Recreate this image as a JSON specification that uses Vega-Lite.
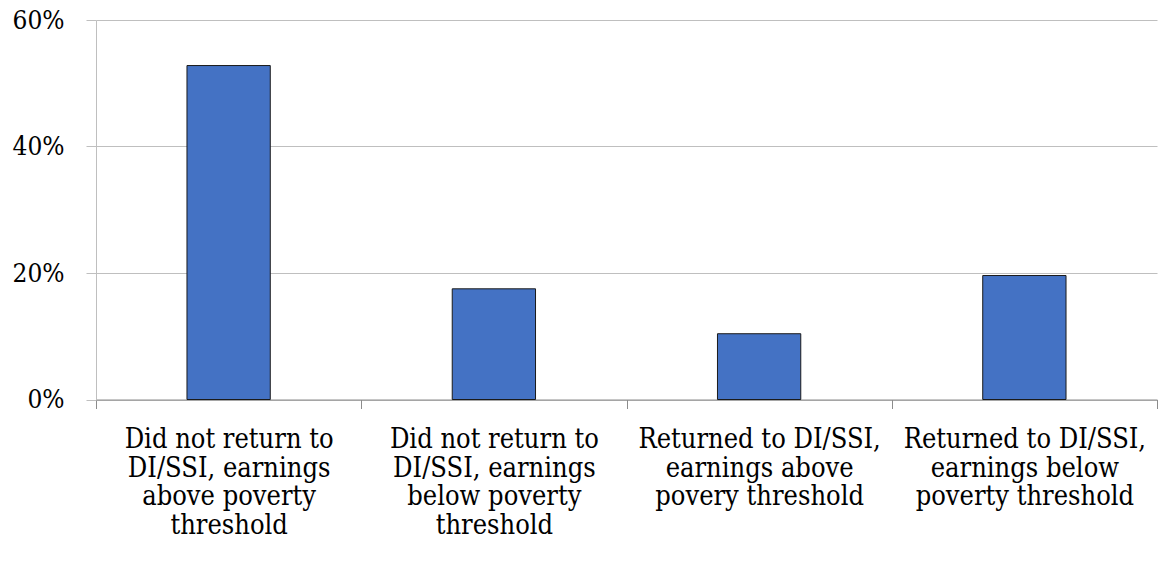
{
  "$schema": "https://vega.github.io/schema/vega-lite/v6.json",
  "width": 1061,
  "height": 379.5,
  "autosize": {"type": "none"},
  "padding": {"left": 96, "top": 20, "right": 2, "bottom": 165},
  "background": "white",
  "data": {
    "values": [
      {"outcome": "Did not return to\nDI/SSI, earnings\nabove poverty\nthreshold", "share": 0.528},
      {"outcome": "Did not return to\nDI/SSI, earnings\nbelow poverty\nthreshold", "share": 0.175},
      {"outcome": "Returned to DI/SSI,\nearnings above\npovery threshold", "share": 0.104},
      {"outcome": "Returned to DI/SSI,\nearnings below\npoverty threshold", "share": 0.196}
    ]
  },
  "mark": {
    "type": "bar",
    "width": {"band": 0.314},
    "color": "#4472C4",
    "stroke": "#1a1a1a",
    "strokeWidth": 1
  },
  "encoding": {
    "x": {
      "field": "outcome",
      "type": "nominal",
      "sort": null,
      "title": null,
      "scale": {"paddingInner": 0, "paddingOuter": 0},
      "axis": {
        "labelAngle": 0,
        "labelExpr": "datum.value ? split(datum.value, '\\n') : ''",
        "labelFont": "DejaVu Serif Condensed",
        "labelFontSize": 27,
        "labelLineHeight": 28.5,
        "labelColor": "#000000",
        "labelPadding": 18,
        "labelBaseline": "top",
        "labelLimit": 0,
        "tickBand": "extent",
        "tickSize": 9,
        "tickColor": "#8c8c8c",
        "domainColor": "#8c8c8c",
        "grid": false
      }
    },
    "y": {
      "field": "share",
      "type": "quantitative",
      "title": null,
      "scale": {"domain": [0, 0.6], "nice": false},
      "axis": {
        "values": [0, 0.2, 0.4, 0.6],
        "format": ".0%",
        "labelFont": "DejaVu Serif Condensed",
        "labelFontSize": 26,
        "labelColor": "#000000",
        "labelPadding": 22,
        "tickSize": 10,
        "tickColor": "#bfbfbf",
        "domainColor": "#bfbfbf",
        "grid": true,
        "gridColor": "#bfbfbf",
        "gridWidth": 1
      }
    }
  },
  "config": {
    "view": {"stroke": null}
  }
}
